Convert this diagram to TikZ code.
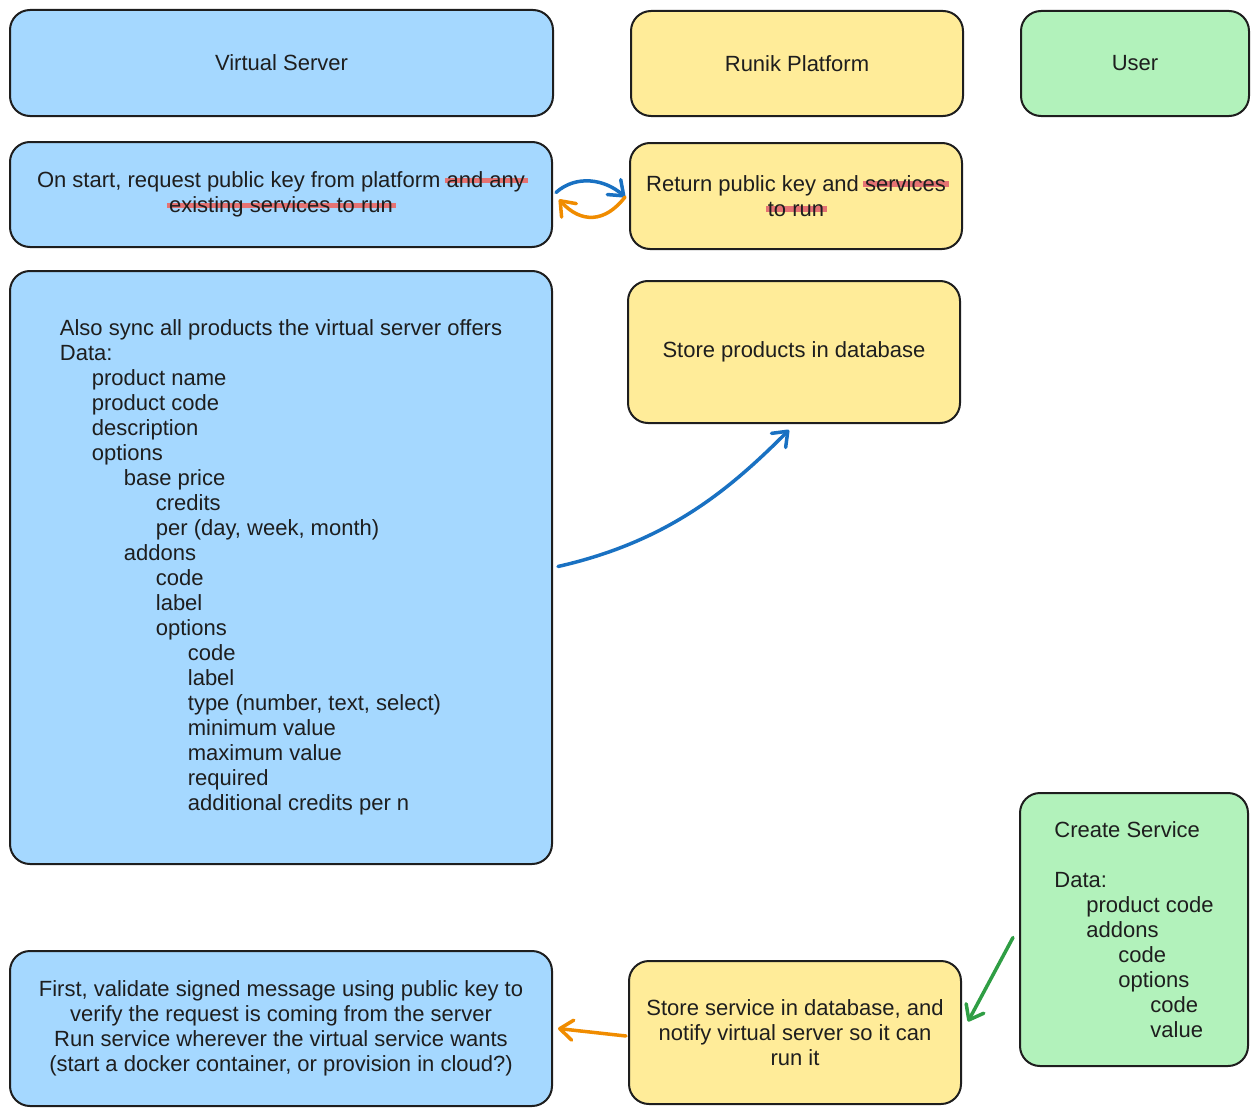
\documentclass[tikz,border=0pt]{standalone}
\usepackage{fontspec}
\setmainfont{Liberation Sans}
\usetikzlibrary{arrows.meta,calc}
\definecolor{vsfill}{HTML}{A5D8FF}
\definecolor{rpfill}{HTML}{FFEC99}
\definecolor{usfill}{HTML}{B2F2BB}
\definecolor{strokecol}{HTML}{1E1E1E}
\definecolor{bluearr}{HTML}{1971C2}
\definecolor{orangearr}{HTML}{F08C00}
\definecolor{greenarr}{HTML}{2F9E44}
\definecolor{strikered}{HTML}{E57373}
\newsavebox\strkbox
\newcommand\strk[1]{\sbox\strkbox{#1}\rlap{\hspace*{-2pt}\color{strikered}\rule[0.2em]{\dimexpr\wd\strkbox+5pt\relax}{0.26em}}\usebox\strkbox}
\newcommand\ind[1]{\hspace*{#1}}
\tikzset{
  box/.style={draw=strokecol, line width=2pt, rounded corners=20pt, inner sep=0pt, align=center,
    font=\fontsize{22pt}{25pt}\selectfont, text=strokecol},
  vsbox/.style={box, fill=vsfill},
  rpbox/.style={box, fill=rpfill},
  usbox/.style={box, fill=usfill},
  conn/.style={line width=3.5pt, line cap=round, -{Straight Barb[length=13pt,width=20pt,line cap=round,line join=round]}},
}
\begin{document}
\begin{tikzpicture}[x=1pt,y=-1pt]
\useasboundingbox (0,0) rectangle (1259,1116);
% header row
\node[vsbox, minimum width=543pt, minimum height=106pt] (vs) at (281.5,63) {Virtual Server};
\node[rpbox, minimum width=332pt, minimum height=105pt] (rp) at (797,63.5) {Runik Platform};
\node[usbox, minimum width=228pt, minimum height=105pt] (us) at (1135,63.5) {User};
% second row
\node[vsbox, minimum width=542pt, minimum height=105pt] (on) at (281,194.5)
  {On start, request public key from platform \strk{and any}\\ \strk{existing services to run}};
\node[rpbox, minimum width=332pt, minimum height=106pt] (ret) at (796,196)
  {Return public key and \strk{services}\\ \strk{to run}};
% big box
\node[vsbox, minimum width=542pt, minimum height=593pt, align=left] (big) at (281,567.5)
  {Also sync all products the virtual server offers\\
   Data:\\
   \ind{32pt}product name\\
   \ind{32pt}product code\\
   \ind{32pt}description\\
   \ind{32pt}options\\
   \ind{64pt}base price\\
   \ind{96pt}credits\\
   \ind{96pt}per (day, week, month)\\
   \ind{64pt}addons\\
   \ind{96pt}code\\
   \ind{96pt}label\\
   \ind{96pt}options\\
   \ind{128pt}code\\
   \ind{128pt}label\\
   \ind{128pt}type (number, text, select)\\
   \ind{128pt}minimum value\\
   \ind{128pt}maximum value\\
   \ind{128pt}required\\
   \ind{128pt}additional credits per n};
\node[rpbox, minimum width=332pt, minimum height=142pt] (prod) at (794,352) {Store products in database};
% bottom
\node[usbox, minimum width=228pt, minimum height=273pt, align=left] (cs) at (1134,929.5)
  {Create Service\\[25pt]
   Data:\\
   \ind{32pt}product code\\
   \ind{32pt}addons\\
   \ind{64pt}code\\
   \ind{64pt}options\\
   \ind{96pt}code\\
   \ind{96pt}value};
\node[rpbox, minimum width=332pt, minimum height=143pt] (ss) at (795,1032.5)
  {Store service in database, and\\ notify virtual server so it can\\ run it};
\node[vsbox, minimum width=542pt, minimum height=155pt] (fv) at (281,1028.5)
  {First, validate signed message using public key to\\
   verify the request is coming from the server\\
   Run service wherever the virtual service wants\\
   (start a docker container, or provision in cloud?)};
% connectors
\draw[conn, draw=bluearr] ($(on.east)+(3,-2)$) .. controls +(20,-18) and +(-20,-18) .. ($(ret.west)+(-4,1)$);
\draw[conn, draw=orangearr] ($(ret.west)+(-4,1)$) .. controls +(-20,26) and +(22,24) .. ($(on.east)+(6,5)$);
\draw[conn, draw=bluearr] ($(big.east)+(5,-1)$) .. controls +(110,-25) and +(-60,60) .. ($(prod.south)+(-5,6)$);
\draw[conn, draw=greenarr] ($(cs.west)+(-6,8)$) -- ($(ss.east)+(6,-11)$);
\draw[conn, draw=orangearr] ($(ss.west)+(-2,3.5)$) -- ($(fv.east)+(5,0)$);
\end{tikzpicture}
\end{document}
